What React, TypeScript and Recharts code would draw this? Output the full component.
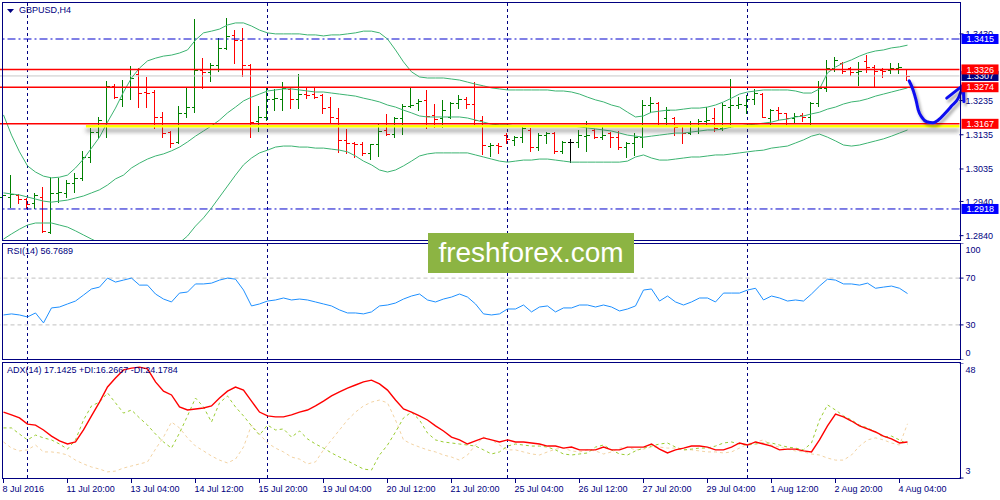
import React from "react";
import { ComposedChart, LineChart, Line, Bar, XAxis, YAxis, ReferenceLine } from "recharts";

const FONT = "'Liberation Sans', Arial, sans-serif";
const NAVY = "#000080";
const SLOTS = 120;

// GBPUSD H4 bars, 8 Jul 2016 .. 4 Aug 2016
const opens = [
  1.2953, 1.2953, 1.2959, 1.2947, 1.2935, 1.2953, 1.2851, 1.2965, 1.2965, 1.2994,
  1.3008, 1.3070, 1.3143, 1.3169, 1.3278, 1.3240, 1.3275, 1.3313, 1.3260, 1.3260,
  1.3187, 1.3143, 1.3114, 1.3199, 1.3216, 1.3324, 1.3318, 1.3339, 1.3389, 1.3427,
  1.3412, 1.3339, 1.3175, 1.3187, 1.3240, 1.3240, 1.3269, 1.3240, 1.3254, 1.3254,
  1.3251, 1.3216, 1.3184, 1.3120, 1.3111, 1.3108, 1.3082, 1.3108, 1.3149, 1.3137,
  1.3184, 1.3219, 1.3228, 1.3237, 1.3193, 1.3184, 1.3187, 1.3228, 1.3240, 1.3225,
  1.3178, 1.3102, 1.3105, 1.3134, 1.3120, 1.3128, 1.3149, 1.3099, 1.3134, 1.3140,
  1.3088, 1.3114, 1.3114, 1.3131, 1.3149, 1.3128, 1.3140, 1.3128, 1.3099, 1.3111,
  1.3128, 1.3222, 1.3228, 1.3184, 1.3184, 1.3161, 1.3140, 1.3161, 1.3175, 1.3184,
  1.3155, 1.3216, 1.3222, 1.3222, 1.3240, 1.3254, 1.3184, 1.3207, 1.3199, 1.3184,
  1.3193, 1.3187, 1.3228, 1.3272, 1.3330, 1.3345, 1.3330, 1.3318, 1.3351, 1.3333,
  1.3324, 1.3324, 1.3330, 1.3327,
];
const highs = [
  1.2994, 1.3017, 1.2962, 1.2950, 1.2965, 1.2982, 1.3011, 1.3008, 1.3003, 1.3023,
  1.3088, 1.3155, 1.3187, 1.3292, 1.3283, 1.3295, 1.3336, 1.3330, 1.3304, 1.3266,
  1.3202, 1.3146, 1.3219, 1.3272, 1.3473, 1.3359, 1.3345, 1.3418, 1.3476, 1.3441,
  1.3447, 1.3342, 1.3219, 1.3272, 1.3269, 1.3289, 1.3272, 1.3313, 1.3275, 1.3272,
  1.3254, 1.3245, 1.3213, 1.3152, 1.3114, 1.3114, 1.3108, 1.3166, 1.3196, 1.3187,
  1.3225, 1.3272, 1.3240, 1.3266, 1.3225, 1.3237, 1.3231, 1.3251, 1.3245, 1.3289,
  1.3190, 1.3111, 1.3111, 1.3140, 1.3131, 1.3161, 1.3155, 1.3140, 1.3143, 1.3143,
  1.3117, 1.3123, 1.3149, 1.3175, 1.3152, 1.3161, 1.3143, 1.3146, 1.3114, 1.3140,
  1.3237, 1.3245, 1.3231, 1.3216, 1.3187, 1.3161, 1.3175, 1.3181, 1.3216, 1.3213,
  1.3228, 1.3298, 1.3245, 1.3251, 1.3269, 1.3257, 1.3210, 1.3216, 1.3199, 1.3199,
  1.3199, 1.3231, 1.3292, 1.3354, 1.3362, 1.3348, 1.3333, 1.3348, 1.3368, 1.3339,
  1.3330, 1.3345, 1.3345, 1.3327,
];
const lows = [
  1.2906, 1.2924, 1.2935, 1.2921, 1.2921, 1.2851, 1.2848, 1.2938, 1.2953, 1.2968,
  1.3003, 1.3055, 1.3126, 1.3128, 1.3242, 1.3219, 1.3240, 1.3216, 1.3216, 1.3155,
  1.3128, 1.3099, 1.3111, 1.3187, 1.3202, 1.3272, 1.3292, 1.3321, 1.3386, 1.3345,
  1.3307, 1.3128, 1.3146, 1.3178, 1.3207, 1.3207, 1.3213, 1.3213, 1.3242, 1.3242,
  1.3199, 1.3169, 1.3085, 1.3082, 1.3070, 1.3076, 1.3064, 1.3073, 1.3134, 1.3128,
  1.3137, 1.3216, 1.3207, 1.3155, 1.3158, 1.3158, 1.3184, 1.3213, 1.3213, 1.3161,
  1.3079, 1.3073, 1.3082, 1.3111, 1.3105, 1.3114, 1.3088, 1.3090, 1.3111, 1.3082,
  1.3082, 1.3055, 1.3099, 1.3088, 1.3126, 1.3123, 1.3099, 1.3093, 1.3070, 1.3076,
  1.3099, 1.3202, 1.3166, 1.3164, 1.3134, 1.3111, 1.3137, 1.3140, 1.3166, 1.3146,
  1.3149, 1.3158, 1.3213, 1.3199, 1.3225, 1.3187, 1.3161, 1.3181, 1.3166, 1.3169,
  1.3175, 1.3166, 1.3219, 1.3263, 1.3321, 1.3316, 1.3310, 1.3280, 1.3318, 1.3275,
  1.3304, 1.3316, 1.3316, 1.3295,
];
const closes = [
  1.2959, 1.2962, 1.2947, 1.2932, 1.2959, 1.2854, 1.2965, 1.2968, 1.2994, 1.3008,
  1.3070, 1.3143, 1.3178, 1.3278, 1.3245, 1.3275, 1.3301, 1.3257, 1.3257, 1.3187,
  1.3140, 1.3111, 1.3199, 1.3216, 1.3324, 1.3318, 1.3339, 1.3389, 1.3424, 1.3412,
  1.3339, 1.3172, 1.3187, 1.3240, 1.3242, 1.3272, 1.3240, 1.3254, 1.3251, 1.3245,
  1.3213, 1.3187, 1.3120, 1.3111, 1.3108, 1.3082, 1.3108, 1.3146, 1.3137, 1.3184,
  1.3219, 1.3222, 1.3234, 1.3190, 1.3181, 1.3207, 1.3228, 1.3240, 1.3225, 1.3178,
  1.3105, 1.3105, 1.3102, 1.3123, 1.3128, 1.3155, 1.3099, 1.3134, 1.3140, 1.3088,
  1.3114, 1.3114, 1.3134, 1.3134, 1.3128, 1.3134, 1.3128, 1.3099, 1.3111, 1.3128,
  1.3222, 1.3228, 1.3169, 1.3207, 1.3158, 1.3140, 1.3161, 1.3175, 1.3178, 1.3155,
  1.3222, 1.3222, 1.3225, 1.3240, 1.3257, 1.3187, 1.3207, 1.3199, 1.3184, 1.3190,
  1.3187, 1.3228, 1.3272, 1.3330, 1.3354, 1.3321, 1.3318, 1.3321, 1.3333, 1.3321,
  1.3321, 1.3330, 1.3333, 1.3307,
];

// Bollinger Bands (20)
const bbUpper = [
  1.3193, 1.3134, 1.3085, 1.3044, 1.3026, 1.3014, 1.3009, 1.3011, 1.3017, 1.3038,
  1.3064, 1.3096, 1.3128, 1.3172, 1.3213, 1.3260, 1.3301, 1.3330, 1.3351, 1.3359,
  1.3365, 1.3368, 1.3374, 1.3383, 1.3412, 1.3433, 1.3438, 1.3444, 1.3456, 1.3462,
  1.3462, 1.3453, 1.3441, 1.3433, 1.3430, 1.3430, 1.3430, 1.3430, 1.3427, 1.3427,
  1.3424, 1.3427, 1.3427, 1.3430, 1.3433, 1.3438, 1.3438, 1.3433, 1.3415, 1.3383,
  1.3348, 1.3319, 1.3304, 1.3301, 1.3301, 1.3301, 1.3298, 1.3295, 1.3289, 1.3283,
  1.3278, 1.3272, 1.3269, 1.3266, 1.3266, 1.3266, 1.3266, 1.3266, 1.3266, 1.3263,
  1.3263, 1.3260, 1.3254, 1.3245, 1.3237, 1.3231, 1.3222, 1.3216, 1.3201, 1.3187,
  1.3190, 1.3201, 1.3204, 1.3207, 1.3207, 1.3210, 1.3213, 1.3213, 1.3216, 1.3222,
  1.3231, 1.3242, 1.3254, 1.3260, 1.3263, 1.3266, 1.3266, 1.3266, 1.3266, 1.3263,
  1.3257, 1.3257, 1.3269, 1.3316, 1.3333, 1.3345, 1.3354, 1.3365, 1.3374, 1.3380,
  1.3383, 1.3389, 1.3392, 1.3397,
];
const bbMiddle = [
  1.2965, 1.2962, 1.2959, 1.2953, 1.2947, 1.2941, 1.2938, 1.2941, 1.2944, 1.2950,
  1.2956, 1.2965, 1.2974, 1.2988, 1.3006, 1.3017, 1.3038, 1.3052, 1.3064, 1.3073,
  1.3079, 1.3088, 1.3099, 1.3114, 1.3131, 1.3146, 1.3161, 1.3178, 1.3199, 1.3216,
  1.3234, 1.3245, 1.3254, 1.3263, 1.3266, 1.3269, 1.3269, 1.3266, 1.3263, 1.3260,
  1.3260, 1.3257, 1.3254, 1.3251, 1.3248, 1.3242, 1.3237, 1.3231, 1.3222, 1.3216,
  1.3207, 1.3199, 1.3190, 1.3187, 1.3187, 1.3187, 1.3187, 1.3187, 1.3184, 1.3178,
  1.3172, 1.3166, 1.3164, 1.3164, 1.3161, 1.3161, 1.3161, 1.3161, 1.3161, 1.3161,
  1.3161, 1.3161, 1.3158, 1.3155, 1.3152, 1.3149, 1.3146, 1.3140, 1.3134, 1.3131,
  1.3128, 1.3131, 1.3134, 1.3137, 1.3140, 1.3140, 1.3143, 1.3146, 1.3149, 1.3149,
  1.3152, 1.3158, 1.3161, 1.3164, 1.3166, 1.3169, 1.3172, 1.3178, 1.3181, 1.3187,
  1.3190, 1.3196, 1.3201, 1.3210, 1.3216, 1.3225, 1.3231, 1.3234, 1.3240, 1.3248,
  1.3254, 1.3260, 1.3266, 1.3272,
];
const bbLower = [
  1.2830, 1.2845, 1.2859, 1.2871, 1.2877, 1.2877, 1.2877, 1.2871, 1.2865, 1.2854,
  1.2842, 1.2830, 1.2819, 1.2804, 1.2792, 1.2781, 1.2769, 1.2763, 1.2760, 1.2763,
  1.2775, 1.2792, 1.2819, 1.2839, 1.2868, 1.2892, 1.2921, 1.2953, 1.2985, 1.3017,
  1.3047, 1.3067, 1.3082, 1.3090, 1.3099, 1.3102, 1.3102, 1.3099, 1.3099, 1.3096,
  1.3096, 1.3093, 1.3090, 1.3085, 1.3073, 1.3058, 1.3047, 1.3032, 1.3026, 1.3032,
  1.3044, 1.3058, 1.3073, 1.3079, 1.3082, 1.3082, 1.3082, 1.3082, 1.3082, 1.3076,
  1.3070, 1.3064, 1.3058, 1.3055, 1.3058, 1.3061, 1.3061, 1.3064, 1.3064, 1.3061,
  1.3058, 1.3055, 1.3055, 1.3055, 1.3055, 1.3055, 1.3055, 1.3055, 1.3058, 1.3070,
  1.3076, 1.3067, 1.3061, 1.3061, 1.3064, 1.3067, 1.3070, 1.3070, 1.3073, 1.3076,
  1.3076, 1.3079, 1.3082, 1.3085, 1.3088, 1.3090, 1.3096, 1.3099, 1.3102, 1.3111,
  1.3120, 1.3131, 1.3137, 1.3128, 1.3117, 1.3105, 1.3102, 1.3105, 1.3111, 1.3117,
  1.3123, 1.3131, 1.3140, 1.3149,
];

// RSI(14)
const rsi = [
  38.5, 39.4, 38.5, 36.8, 40.2, 31.7, 44.5, 45.3, 47.9, 50.4,
  55.5, 60.7, 62.3, 70.0, 66.6, 68.3, 70.0, 64.0, 64.0, 56.4,
  52.1, 49.6, 57.2, 58.1, 65.0, 65.0, 65.7, 68.3, 70.0, 69.1,
  59.8, 46.2, 47.9, 50.4, 51.3, 53.0, 51.3, 52.1, 51.3, 49.6,
  47.9, 46.2, 42.8, 40.2, 40.2, 39.4, 41.1, 46.2, 47.0, 48.7,
  52.1, 54.7, 56.4, 51.3, 49.6, 52.1, 53.8, 56.4, 53.8, 47.9,
  39.4, 38.5, 39.4, 43.6, 43.6, 47.0, 41.1, 45.3, 46.2, 41.1,
  44.5, 44.5, 47.0, 47.0, 45.3, 47.0, 45.3, 41.9, 43.6, 46.2,
  59.8, 60.7, 50.4, 54.7, 49.6, 47.0, 49.6, 53.0, 53.0, 49.6,
  57.2, 57.2, 57.2, 59.8, 61.3, 51.3, 54.7, 53.0, 50.4, 51.3,
  50.4, 56.4, 63.2, 69.1, 68.3, 65.0, 65.0, 64.0, 65.7, 61.3,
  62.3, 63.2, 61.3, 56.8,
];

// ADX(14), +DI, -DI
const adx = [
  28.8, 27.7, 26.5, 24.1, 23.7, 21.8, 19.4, 17.5, 16.3, 17.1,
  21.8, 27.3, 32.7, 38.6, 42.1, 45.3, 46.0, 46.4, 45.7, 40.6,
  37.0, 35.5, 30.8, 29.6, 30.0, 30.4, 31.2, 34.3, 37.0, 38.6,
  37.4, 33.1, 28.8, 27.3, 26.9, 26.9, 27.7, 28.8, 29.6, 31.2,
  33.1, 35.1, 36.7, 38.2, 39.4, 40.6, 41.3, 39.8, 37.4, 33.5,
  30.0, 28.8, 27.3, 25.7, 23.4, 21.4, 19.0, 17.9, 16.3, 17.5,
  18.7, 17.9, 17.1, 17.9, 17.1, 17.1, 16.7, 16.3, 15.5, 15.5,
  14.7, 15.1, 14.0, 14.0, 14.0, 15.1, 14.0, 14.0, 15.1, 15.1,
  15.1, 16.3, 14.3, 12.8, 14.0, 14.7, 15.5, 15.5, 15.1, 14.0,
  14.0, 15.1, 16.7, 15.9, 17.1, 16.3, 15.5, 14.0, 14.3, 14.3,
  13.6, 13.2, 17.9, 23.4, 28.0, 26.9, 25.3, 23.4, 22.2, 21.0,
  19.4, 18.3, 16.7, 17.1,
];
const plusDi = [
  22.6, 22.6, 20.2, 17.9, 19.8, 18.7, 17.9, 16.3, 14.3, 17.9,
  25.7, 31.2, 32.7, 36.3, 32.4, 28.4, 29.6, 26.5, 23.7, 20.2,
  17.1, 14.7, 20.6, 27.3, 34.3, 30.8, 24.9, 32.4, 35.1, 30.8,
  27.3, 23.4, 19.8, 23.7, 21.8, 22.2, 19.0, 21.4, 18.3, 16.3,
  14.7, 12.8, 11.2, 9.7, 8.1, 6.5, 6.1, 12.0, 15.9, 21.0,
  26.5, 28.8, 25.7, 20.6, 17.9, 17.1, 16.7, 16.3, 15.9, 15.5,
  14.0, 12.4, 13.2, 15.5, 16.3, 15.9, 15.5, 15.5, 15.1, 14.0,
  12.4, 12.0, 12.4, 12.8, 15.1, 15.9, 14.0, 12.4, 12.0, 13.6,
  14.7, 15.5, 16.3, 16.7, 15.1, 14.0, 14.3, 14.7, 14.7, 15.5,
  16.7, 17.1, 16.3, 15.9, 16.3, 16.7, 16.7, 15.9, 15.1, 14.7,
  14.0, 16.7, 25.7, 31.6, 29.6, 27.3, 25.7, 23.7, 22.6, 21.0,
  19.0, 19.4, 17.9, 16.3,
];
const minusDi = [
  17.1, 14.7, 13.6, 14.0, 15.9, 13.2, 13.2, 12.8, 12.0, 10.0,
  8.5, 7.3, 6.5, 5.4, 5.7, 6.9, 7.7, 8.5, 9.3, 14.3,
  19.0, 24.9, 22.6, 18.7, 15.5, 13.6, 11.6, 10.0, 8.9, 10.4,
  15.1, 23.7, 20.2, 16.7, 14.7, 13.2, 11.2, 10.4, 8.5, 9.3,
  14.0, 17.9, 21.8, 25.7, 28.8, 31.2, 32.7, 33.5, 32.4, 25.7,
  17.9, 16.3, 15.1, 14.0, 13.2, 12.0, 11.2, 10.0, 12.0, 15.9,
  19.0, 17.9, 15.9, 14.0, 14.0, 13.2, 12.4, 12.0, 13.2, 14.3,
  14.7, 13.6, 13.2, 14.0, 13.6, 12.4, 13.2, 14.7, 15.1, 14.0,
  14.3, 15.1, 15.1, 14.7, 14.7, 14.0, 14.0, 13.6, 13.2, 13.2,
  12.8, 13.2, 14.7, 16.3, 17.1, 17.9, 15.9, 15.1, 14.3, 13.6,
  13.2, 12.4, 12.0, 10.8, 10.0, 10.0, 12.0, 15.5, 17.9, 18.7,
  17.9, 16.7, 15.9, 24.2,
];

// hand-drawn forecast (bar index, price)
const forecastX = [113.2, 113.7, 114.06, 114.35, 114.8, 115.4, 116.2, 116.85, 117.7, 118.5, 119.35, 119.97];
const forecastY = [1.3293, 1.3266, 1.3237, 1.3207, 1.3186, 1.3173, 1.317, 1.3178, 1.3198, 1.3219, 1.3242, 1.328];
const arrowWingA = [{ x: 117.9, y: 1.3242 }, { x: 119.97, y: 1.328 }];
const arrowWingB = [{ x: 119.97, y: 1.328 }, { x: 120.05, y: 1.3232 }];

const tickLabels = [
  "8 Jul 2016", "11 Jul 20:00", "13 Jul 04:00", "14 Jul 12:00", "15 Jul 20:00",
  "19 Jul 04:00", "20 Jul 12:00", "21 Jul 20:00", "25 Jul 04:00", "26 Jul 12:00",
  "27 Jul 20:00", "29 Jul 04:00", "1 Aug 12:00", "2 Aug 20:00", "4 Aug 04:00",
];
const tickIdx = [0, 8, 16, 24, 32, 40, 48, 56, 64, 72, 80, 88, 96, 104, 112];
const weekStarts = [3, 33, 63, 93];

const priceTicks = [1.284, 1.294, 1.3035, 1.3135, 1.3235, 1.343];
const dashDotLevels = [1.3415, 1.2918];
const redLevels = [1.3326, 1.3274, 1.3167];
const bidPrice = 1.3307;
const supportBand = 1.316;
const priceDomain = [1.28273, 1.35232];

const mainData = Array.from({ length: SLOTS }, (_, i) =>
  i < opens.length
    ? { i, range: [lows[i], highs[i]], o: opens[i], h: highs[i], l: lows[i], c: closes[i], up: bbUpper[i], mid: bbMiddle[i], lo: bbLower[i] }
    : { i }
);
const rsiData = Array.from({ length: SLOTS }, (_, i) => (i < rsi.length ? { i, rsi: rsi[i] } : { i }));
const adxData = Array.from({ length: SLOTS }, (_, i) =>
  i < adx.length ? { i, adx: adx[i], pdi: plusDi[i], mdi: minusDi[i] } : { i }
);
const forecastData = forecastX.map((x, k) => ({ x, y: forecastY[k] }));

function OhlcShape(props: any) {
  const { x, y, width, height, payload } = props;
  if (!payload || payload.h == null) return null;
  const top = Math.min(y, y + height);
  const bot = Math.max(y, y + height);
  const span = payload.h - payload.l;
  const yAt = (p: number) => (span > 0 ? top + ((payload.h - p) / span) * (bot - top) : top);
  const cx = Math.round(x + width / 2) - 0.5;
  const color = payload.c > payload.o ? "#008000" : payload.c < payload.o ? "#FF0000" : "#000000";
  const yo = Math.round(yAt(payload.o)) + 0.5;
  const yc = Math.round(yAt(payload.c)) + 0.5;
  return (
    <g stroke={color} strokeWidth={1} shapeRendering="crispEdges">
      <line x1={cx} x2={cx} y1={Math.round(top)} y2={Math.round(bot) + 1} />
      <line x1={cx - 3} x2={cx} y1={yo} y2={yo} />
      <line x1={cx} x2={cx + 3} y1={yc} y2={yc} />
    </g>
  );
}

function SideTick(props: any) {
  const { x, y, payload, digits, shift } = props;
  const v = payload.value;
  const dy = shift && shift[v] ? shift[v] : 0;
  return (
    <g>
      <line x1={x} x2={x + 4} y1={y} y2={y} stroke={NAVY} strokeWidth={1} />
      <text x={x + 6} y={y + dy} dy="0.35em" fontSize={9} fontFamily={FONT} fill={NAVY}>
        {v.toFixed(digits)}
      </text>
    </g>
  );
}

function TimeTick(props: any) {
  const { x, y, payload } = props;
  const label = tickLabels[tickIdx.indexOf(payload.value)];
  return (
    <g>
      <line x1={x} x2={x} y1={y} y2={y + 5} stroke={NAVY} strokeWidth={1} />
      <text x={x - 1} y={y + 14} fontSize={9} fontFamily={FONT} fill={NAVY}>
        {label}
      </text>
    </g>
  );
}

function PriceTag(props: any) {
  const { viewBox, text, fill } = props;
  if (!viewBox) return null;
  const right = viewBox.x + viewBox.width;
  const y = viewBox.y;
  return (
    <g>
      <rect x={right + 2} y={y - 5} width={37} height={10} fill={fill} />
      <text x={right + 7} y={y} dy="0.35em" fontSize={9} fontFamily={FONT} fill="#FFFFFF">
        {text}
      </text>
    </g>
  );
}

const panelLabel: React.CSSProperties = {
  position: "absolute",
  left: 7,
  fontFamily: FONT,
  fontSize: 9,
  color: NAVY,
  whiteSpace: "nowrap",
  lineHeight: "11px",
};

function frame(top: number, height: number): React.CSSProperties {
  return {
    position: "absolute",
    left: 2,
    top,
    width: 959,
    height,
    boxSizing: "border-box",
    border: `1px solid ${NAVY}`,
    pointerEvents: "none",
  };
}

function tagLine(p: number, text: string, fill: string) {
  return (
    <ReferenceLine
      key={`tag${p}`}
      segment={[{ x: -0.5, y: p }, { x: 119.5, y: p }]}
      stroke="none"
      label={<PriceTag text={text} fill={fill} />}
    />
  );
}

export default function App() {
  return (
    <div style={{ position: "absolute", left: 0, top: 0, width: 1000, height: 500, background: "#FFFFFF", overflow: "hidden", fontFamily: FONT }}>
      {/* price panel */}
      <div style={{ position: "absolute", left: 0, top: 0 }}>
        <ComposedChart width={1000} height={242} data={mainData} margin={{ top: 2, right: 0, bottom: 2, left: -0.5 }}>
          <XAxis dataKey="i" hide />
          <YAxis
            orientation="right"
            width={40.5}
            domain={priceDomain}
            allowDataOverflow
            ticks={priceTicks}
            interval={0}
            tickSize={0}
            tickMargin={0}
            tickLine={false}
            axisLine={false}
            tick={<SideTick digits={4} />}
          />
          {weekStarts.map((w) => (
            <ReferenceLine key={`w${w}`} x={w} position="middle" stroke={NAVY} strokeDasharray="3 3" />
          ))}
          {dashDotLevels.map((p) => (
            <ReferenceLine key={`d${p}`} y={p} stroke="#0000CD" strokeDasharray="8 3 2 3" />
          ))}
          <ReferenceLine y={bidPrice} stroke="#C8C8C8" />
          <Line dataKey="up" stroke="#3CB371" strokeWidth={1} dot={false} isAnimationActive={false} />
          <Line dataKey="mid" stroke="#3CB371" strokeWidth={1} dot={false} isAnimationActive={false} />
          <Line dataKey="lo" stroke="#3CB371" strokeWidth={1} dot={false} isAnimationActive={false} />
          <Bar dataKey="range" shape={(p: any) => <OhlcShape {...p} />} isAnimationActive={false} />
          {redLevels.map((p) => (
            <ReferenceLine key={`r${p}`} y={p} stroke="#FF0000" strokeWidth={1.4} />
          ))}
        </ComposedChart>
      </div>

      {/* hand-drawn annotations and price tags */}
      <div style={{ position: "absolute", left: 0, top: 0 }}>
        <LineChart width={1000} height={242} margin={{ top: 2, right: 32.5, bottom: 2, left: -0.5 }}>
          <defs>
            <filter id="bandShadow" filterUnits="userSpaceOnUse" x="0" y="0" width="1000" height="242">
              <feDropShadow dx="0" dy="4" stdDeviation="2.2" floodColor="#555555" floodOpacity="0.75" />
            </filter>
            <filter id="handShadow" filterUnits="userSpaceOnUse" x="0" y="0" width="1000" height="242">
              <feDropShadow dx="2" dy="3" stdDeviation="1.6" floodColor="#000000" floodOpacity="0.35" />
            </filter>
          </defs>
          <XAxis type="number" dataKey="x" domain={[-0.5, 120.5]} allowDataOverflow hide />
          <YAxis domain={priceDomain} allowDataOverflow hide />
          <ReferenceLine
            segment={[{ x: 10.3, y: supportBand }, { x: 119.5, y: supportBand }]}
            stroke="#FFFF00"
            strokeWidth={2.6}
            filter="url(#bandShadow)"
          />
          <Line data={forecastData} dataKey="y" type="monotone" stroke="#1010F0" strokeWidth={3} strokeLinecap="round" dot={false} isAnimationActive={false} filter="url(#handShadow)" />
          <Line data={arrowWingA} dataKey="y" type="linear" stroke="#1010F0" strokeWidth={3} strokeLinecap="round" dot={false} isAnimationActive={false} filter="url(#handShadow)" />
          <Line data={arrowWingB} dataKey="y" type="linear" stroke="#1010F0" strokeWidth={3} strokeLinecap="round" dot={false} isAnimationActive={false} filter="url(#handShadow)" />
          {tagLine(bidPrice, bidPrice.toFixed(4), "#000080")}
          {redLevels.map((p) => tagLine(p, p.toFixed(4), "#FF0000"))}
          {dashDotLevels.map((p) => tagLine(p, p.toFixed(4), "#0000FF"))}
        </LineChart>
      </div>

      {/* RSI panel */}
      <div style={{ position: "absolute", left: 0, top: 243 }}>
        <ComposedChart width={1000} height={117} data={rsiData} margin={{ top: 0, right: 0, bottom: 0, left: -0.5 }}>
          <XAxis dataKey="i" hide padding={{ left: 4, right: 4 }} />
          <YAxis
            orientation="right"
            width={40.5}
            domain={[0, 100]}
            ticks={[0, 30, 70, 100]}
            interval={0}
            tickSize={0}
            tickMargin={0}
            tickLine={false}
            axisLine={false}
            tick={<SideTick digits={0} shift={{ 100: 7, 0: -7 }} />}
          />
          {weekStarts.map((w) => (
            <ReferenceLine key={`w${w}`} x={w} stroke={NAVY} strokeDasharray="3 3" />
          ))}
          <ReferenceLine y={70} stroke="#C0C0C0" strokeDasharray="4 3" />
          <ReferenceLine y={30} stroke="#C0C0C0" strokeDasharray="4 3" />
          <Line dataKey="rsi" stroke="#1E90FF" strokeWidth={1} dot={false} isAnimationActive={false} />
        </ComposedChart>
      </div>

      {/* ADX panel */}
      <div style={{ position: "absolute", left: 0, top: 363 }}>
        <ComposedChart width={1000} height={137} data={adxData} margin={{ top: 0, right: 0, bottom: 0, left: -0.5 }}>
          <XAxis
            dataKey="i"
            height={22}
            padding={{ left: 4, right: 4 }}
            ticks={tickIdx}
            interval={0}
            tickSize={0}
            tickMargin={0}
            tickLine={false}
            axisLine={false}
            tick={<TimeTick />}
          />
          <YAxis
            orientation="right"
            width={40.5}
            domain={[3, 48]}
            ticks={[3, 48]}
            interval={0}
            tickSize={0}
            tickMargin={0}
            tickLine={false}
            axisLine={false}
            tick={<SideTick digits={0} shift={{ 48: 7, 3: -7 }} />}
          />
          {weekStarts.map((w) => (
            <ReferenceLine key={`w${w}`} x={w} stroke={NAVY} strokeDasharray="3 3" />
          ))}
          <Line dataKey="mdi" stroke="#F3D3A3" strokeWidth={1} strokeDasharray="3 3" dot={false} isAnimationActive={false} />
          <Line dataKey="pdi" stroke="#9ACD32" strokeWidth={1} strokeDasharray="3 3" dot={false} isAnimationActive={false} />
          <Line dataKey="adx" stroke="#FF0000" strokeWidth={1.4} dot={false} isAnimationActive={false} />
        </ComposedChart>
      </div>

      <div style={frame(2, 239)} />
      <div style={frame(243, 117)} />
      <div style={frame(362, 117)} />

      <div style={{ ...panelLabel, top: 5 }}>
        <svg width={8} height={6} style={{ marginRight: 4, verticalAlign: "middle" }}>
          <polygon points="0,1 7,1 3.5,5" fill={NAVY} />
        </svg>
        GBPUSD,H4
      </div>
      <div style={{ ...panelLabel, top: 246 }}>RSI(14) 56.7689</div>
      <div style={{ ...panelLabel, top: 365 }}>ADX(14) 17.1425 +DI:16.2667 -DI:24.1784</div>

      <div
        style={{
          position: "absolute",
          left: 428,
          top: 233,
          width: 206,
          height: 40,
          background: "#8CB443",
          color: "#FFFFFF",
          fontFamily: FONT,
          fontSize: 28,
          lineHeight: "40px",
          textAlign: "center",
        }}
      >
        freshforex.com
      </div>
    </div>
  );
}
